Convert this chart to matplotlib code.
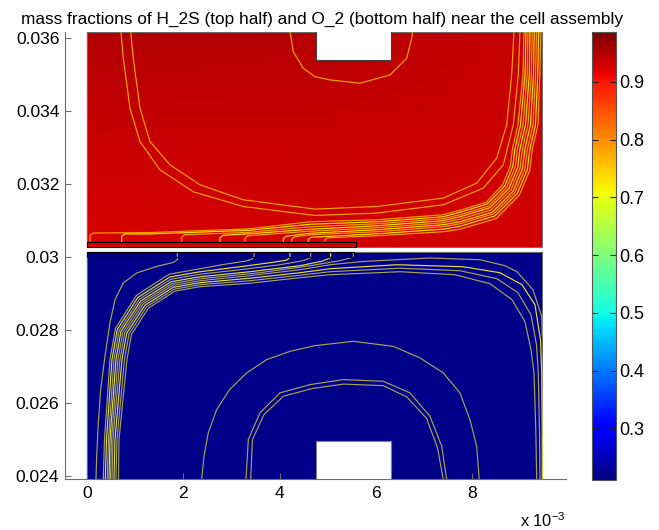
import numpy as np
import matplotlib
matplotlib.use("Agg")
import matplotlib.pyplot as plt
from matplotlib.patches import Rectangle
from matplotlib.colors import Normalize
from matplotlib.cm import ScalarMappable

plt.rcParams['font.family'] = ['Liberation Sans', 'DejaVu Sans']
plt.rcParams['mathtext.fontset'] = 'custom'
plt.rcParams['mathtext.rm'] = 'Liberation Sans'
plt.rcParams['mathtext.it'] = 'Liberation Sans:italic'

# ---------------- data (x in mm, y in mm; y is plotted in metres) ----------------
COLOR_RANGE = (0.2105, 0.9866)
CBAR_TICKS = [0.3, 0.4, 0.5, 0.6, 0.7, 0.8, 0.9]
X_TICKS = [0, 2, 4, 6, 8]
Y_TICKS = [0.024, 0.026, 0.028, 0.030, 0.032, 0.034, 0.036]

# H2S mass fraction, anode side (top half)
TOP_GRID_X = [0.0, 4.73, 9.466]
TOP_GRID_Y = [30.288, 33.2, 36.18]
TOP_VALUES = [[0.925, 0.930, 0.930],
              [0.938, 0.936, 0.935],
              [0.952, 0.948, 0.937]]

# O2 mass fraction, cathode side (bottom half)
BOTTOM_GRID_X = [0.0, 9.466]
BOTTOM_GRID_Y = [23.899, 30.126]
BOTTOM_VALUES = [[0.219, 0.219],
                 [0.219, 0.219]]

# gas inlet blocks (white cut-outs) and electrode layers
TOP_BLOCK = (4.751, 35.414, 6.325, 36.30)
BOTTOM_BLOCK = (4.758, 23.80, 6.325, 24.967)
ANODE_LAYER = (0.0, 30.288, 5.59, 30.405)
CATHODE_LAYER = (0.0, 29.995, 5.55, 30.126)

# contour lines, top half: loops around the upper channel
TOP_LOOP_X = [
    [0.901, 0.955, 1.095, 1.303, 1.719, 2.343, 3.245, 4.737, 6.021, 7.407, 8.102, 8.518, 8.726, 8.830, 8.878],
    [0.699, 0.747, 0.887, 1.095, 1.511, 2.204, 3.245, 4.737, 6.021, 7.407, 8.239, 8.656, 8.864, 8.968, 9.003],
    [4.216, 4.285, 4.493, 4.737, 5.049, 5.673, 6.298, 6.645, 6.749, 6.770],
]
TOP_LOOP_Y = [
    [36.18, 35.452, 34.082, 33.167, 32.529, 31.981, 31.570, 31.315, 31.386, 31.616, 32.027, 32.712, 33.625, 34.995, 36.18],
    [36.18, 35.452, 34.082, 33.167, 32.392, 31.789, 31.386, 31.140, 31.205, 31.433, 31.890, 32.529, 33.625, 34.995, 36.18],
    [36.18, 35.633, 35.178, 34.948, 34.858, 34.767, 34.995, 35.452, 36.0, 36.18],
]

# contour lines, top half: bundle leaving the anode layer
TOP_BUNDLE_X = [
    [0.054, 0.054, 0.117, 1.303, 3.384, 4.633, 6.028, 7.400, 7.754, 8.300, 8.645, 8.805, 8.843, 8.961, 9.066, 9.086],
    [0.714, 0.714, 0.776, 1.303, 3.384, 4.633, 6.028, 7.400, 7.754, 8.325, 8.689, 8.855, 8.895, 9.014, 9.109, 9.128],
    [1.963, 1.963, 2.025, 3.384, 4.633, 6.028, 7.400, 7.754, 8.352, 8.731, 8.907, 8.947, 9.066, 9.153, 9.170],
    [2.760, 2.760, 2.822, 3.384, 4.633, 6.028, 7.400, 7.754, 8.377, 8.774, 8.957, 8.999, 9.118, 9.197, 9.211],
    [3.280, 3.280, 3.342, 4.633, 6.028, 7.400, 7.754, 8.404, 8.816, 9.007, 9.051, 9.170, 9.240, 9.257],
    [4.077, 4.077, 4.139, 4.633, 6.028, 7.400, 7.754, 8.429, 8.860, 9.057, 9.103, 9.222, 9.284, 9.301],
    [4.252, 4.252, 4.314, 4.633, 6.028, 7.400, 7.754, 8.456, 8.901, 9.107, 9.155, 9.274, 9.328, 9.347],
    [4.597, 4.597, 4.660, 6.028, 7.400, 7.754, 8.481, 8.945, 9.157, 9.207, 9.326, 9.372, 9.392],
    [4.945, 4.945, 5.007, 6.028, 7.400, 7.754, 8.508, 8.986, 9.207, 9.259, 9.378, 9.415, 9.440],
]
TOP_BUNDLE_Y = [
    [30.405, 30.584, 30.658, 30.671, 30.775, 30.967, 31.022, 31.159, 31.282, 31.504, 31.989, 32.510, 32.940, 33.625, 34.995, 36.18],
    [30.405, 30.564, 30.633, 30.633, 30.734, 30.899, 30.967, 31.104, 31.227, 31.458, 31.956, 32.496, 32.940, 33.625, 34.995, 36.18],
    [30.405, 30.542, 30.611, 30.679, 30.830, 30.912, 31.049, 31.159, 31.397, 31.918, 32.479, 32.940, 33.625, 34.995, 36.18],
    [30.405, 30.529, 30.597, 30.638, 30.762, 30.858, 30.995, 31.104, 31.351, 31.885, 32.463, 32.940, 33.625, 34.995, 36.18],
    [30.405, 30.515, 30.584, 30.707, 30.803, 30.940, 31.036, 31.290, 31.847, 32.447, 32.940, 33.625, 34.995, 36.18],
    [30.405, 30.501, 30.570, 30.652, 30.748, 30.885, 30.967, 31.230, 31.808, 32.430, 32.940, 33.625, 34.995, 36.18],
    [30.405, 30.493, 30.556, 30.611, 30.693, 30.830, 30.912, 31.184, 31.775, 32.414, 32.940, 33.625, 34.995, 36.18],
    [30.405, 30.488, 30.542, 30.638, 30.762, 30.844, 31.126, 31.737, 32.397, 32.940, 33.625, 34.995, 36.18],
    [30.405, 30.474, 30.529, 30.584, 30.693, 30.762, 31.055, 31.690, 32.375, 32.940, 33.625, 34.995, 36.18],
]

# contour lines, bottom half: lines ending on the cathode layer
BOTTOM_STEP_X = [
    [1.871, 1.871, 1.788, 1.442, 1.026, 0.747, 0.574, 0.470, 0.366, 0.277, 0.227, 0.194, 0.179],
    [0.331, 0.356, 0.470, 0.583, 1.020, 1.702, 2.343, 2.864, 3.280, 3.426, 3.467, 3.467],
    [0.373, 0.398, 0.512, 0.622, 1.049, 1.717, 2.343, 3.176, 3.800, 4.133, 4.216, 4.216],
    [0.414, 0.439, 0.554, 0.662, 1.078, 1.732, 2.343, 3.176, 4.008, 4.487, 4.647, 4.647],
    [0.450, 0.470, 0.595, 0.699, 1.107, 1.746, 2.343, 3.384, 4.425, 4.882, 5.063, 5.063],
    [0.481, 0.502, 0.637, 0.739, 1.136, 1.761, 2.343, 3.592, 4.633, 5.257, 5.534, 5.534],
]
BOTTOM_STEP_Y = [
    [30.118, 29.926, 29.852, 29.742, 29.562, 29.288, 28.830, 28.192, 27.277, 26.364, 25.452, 24.537, 23.899],
    [23.899, 24.995, 27.186, 28.038, 28.948, 29.529, 29.679, 29.803, 29.885, 29.940, 30.008, 30.118],
    [23.899, 24.995, 27.186, 28.011, 28.890, 29.452, 29.597, 29.734, 29.844, 29.912, 29.981, 30.118],
    [23.899, 24.995, 27.186, 27.986, 28.841, 29.389, 29.529, 29.652, 29.789, 29.899, 29.981, 30.118],
    [23.899, 24.995, 27.186, 27.964, 28.795, 29.323, 29.460, 29.597, 29.762, 29.885, 29.981, 30.118],
    [23.899, 24.995, 27.186, 27.945, 28.756, 29.271, 29.405, 29.570, 29.762, 29.899, 29.995, 30.118],
]

# contour lines, bottom half: lines running across the cathode channel
BOTTOM_LOOP_X = [
    [0.512, 0.533, 0.678, 0.778, 1.165, 1.773, 2.343, 3.384, 4.425, 5.049, 5.736, 7.130, 8.171, 8.691, 8.941, 9.274, 9.455, 9.467],
    [0.554, 0.574, 0.720, 0.818, 1.197, 1.788, 2.343, 3.384, 4.425, 5.049, 6.443, 7.817, 8.587, 9.045, 9.315, 9.430, 9.455, 9.465, 9.467],
    [0.595, 0.616, 0.772, 0.866, 1.232, 1.806, 2.343, 3.384, 4.425, 5.049, 6.506, 7.754, 8.524, 8.961, 9.232, 9.347, 9.384, 9.409, 9.419],
    [0.647, 0.658, 0.824, 0.916, 1.270, 1.823, 2.343, 3.384, 4.425, 5.049, 6.506, 7.650, 8.379, 8.837, 9.107, 9.232, 9.295, 9.332, 9.351],
]
BOTTOM_LOOP_Y = [
    [23.899, 24.995, 27.186, 27.926, 28.718, 29.222, 29.351, 29.488, 29.652, 29.789, 29.879, 29.973, 29.926, 29.762, 29.597, 29.104, 28.373, 27.816],
    [23.899, 24.995, 27.186, 27.907, 28.677, 29.170, 29.296, 29.419, 29.570, 29.679, 29.789, 29.734, 29.570, 29.241, 28.693, 27.734, 26.830, 25.268, 23.899],
    [23.899, 24.995, 27.186, 27.888, 28.638, 29.118, 29.241, 29.351, 29.501, 29.597, 29.693, 29.625, 29.405, 29.022, 28.419, 27.597, 26.830, 25.268, 23.899],
    [23.899, 24.995, 27.186, 27.871, 28.600, 29.066, 29.186, 29.282, 29.433, 29.515, 29.597, 29.515, 29.268, 28.830, 28.227, 27.460, 26.830, 25.268, 23.899],
]

# contour lines, bottom half: arches around the lower channel
BOTTOM_ARCH_X = [
    [2.379, 2.427, 2.516, 2.691, 2.960, 3.315, 3.732, 4.216, 4.737, 5.534, 6.366, 6.923, 7.407, 7.754, 7.962, 8.102, 8.156],
    [3.301, 3.349, 3.592, 4.008, 4.633, 5.326, 6.158, 6.714, 7.130, 7.374, 7.478],
    [3.399, 3.436, 3.675, 4.077, 4.674, 5.326, 6.158, 6.651, 7.061, 7.286, 7.407],
]
BOTTOM_ARCH_Y = [
    [23.899, 24.537, 25.178, 25.816, 26.364, 26.822, 27.186, 27.414, 27.570, 27.688, 27.551, 27.233, 26.822, 26.274, 25.542, 24.811, 23.899],
    [23.899, 24.995, 25.726, 26.274, 26.501, 26.638, 26.592, 26.274, 25.633, 24.811, 23.899],
    [23.899, 24.995, 25.679, 26.181, 26.392, 26.515, 26.474, 26.159, 25.570, 24.775, 23.899],
]

# ---------------- drawing ----------------
MM = 1e-3
ORANGE = '#F2A200'
YELLOW = '#FFDD00'
OLIVE = '#A6A25A'
BRIGHT = '#E6E034'
EDGE = '#6e6e6e'

fig = plt.figure(figsize=(6.59, 5.30), dpi=100)
ax = fig.add_axes([0.0986, 0.0953, 0.7602, 0.8449])
cmap = plt.get_cmap('jet')
norm = Normalize(*COLOR_RANGE)

# surfaces
gx, gy = np.meshgrid(TOP_GRID_X, np.array(TOP_GRID_Y) * MM)
ax.pcolormesh(gx, gy, np.array(TOP_VALUES), shading='gouraud', cmap=cmap, norm=norm, zorder=1)
gx, gy = np.meshgrid(BOTTOM_GRID_X, np.array(BOTTOM_GRID_Y) * MM)
ax.pcolormesh(gx, gy, np.array(BOTTOM_VALUES), shading='gouraud', cmap=cmap, norm=norm, zorder=1)

# domain boundaries
for gxs, gys in ((TOP_GRID_X, TOP_GRID_Y), (BOTTOM_GRID_X, BOTTOM_GRID_Y)):
    ax.add_patch(Rectangle((gxs[0], gys[0] * MM), gxs[-1] - gxs[0], (gys[-1] - gys[0]) * MM,
                           fill=False, ec=EDGE, lw=0.7, zorder=2))

line_kw = dict(lw=0.85, solid_joinstyle='round', solid_capstyle='butt', zorder=3)
for xs, ys in zip(TOP_LOOP_X, TOP_LOOP_Y):
    ax.plot(xs, np.array(ys) * MM, color=ORANGE, **line_kw)
for i, (xs, ys) in enumerate(zip(TOP_BUNDLE_X, TOP_BUNDLE_Y)):
    ax.plot(xs, np.array(ys) * MM, color=ORANGE if i % 2 == 0 else YELLOW, **line_kw)

step_colors = [OLIVE, OLIVE, BRIGHT, OLIVE, BRIGHT, OLIVE]
for c, xs, ys in zip(step_colors, BOTTOM_STEP_X, BOTTOM_STEP_Y):
    ax.plot(xs, np.array(ys) * MM, color=c, **line_kw)
loop_colors = [OLIVE, BRIGHT, OLIVE, OLIVE]
for c, xs, ys in zip(loop_colors, BOTTOM_LOOP_X, BOTTOM_LOOP_Y):
    ax.plot(xs, np.array(ys) * MM, color=c, **line_kw)
for xs, ys in zip(BOTTOM_ARCH_X, BOTTOM_ARCH_Y):
    ax.plot(xs, np.array(ys) * MM, color=OLIVE, **line_kw)

# channel cut-outs and electrode layers
for (x0, y0, x1, y1), ec in ((TOP_BLOCK, '#404040'), (BOTTOM_BLOCK, '#808080')):
    ax.add_patch(Rectangle((x0, y0 * MM), x1 - x0, (y1 - y0) * MM, fc='white', ec=ec, lw=0.8, zorder=4))
for (x0, y0, x1, y1) in (ANODE_LAYER, CATHODE_LAYER):
    ax.add_patch(Rectangle((x0, y0 * MM), x1 - x0, (y1 - y0) * MM, fill=False, ec='black', lw=0.8, zorder=4))

ax.set_xlim(-0.466, 9.96)
ax.set_ylim(23.899 * MM, 36.18 * MM)
ax.set_xticks(X_TICKS)
ax.set_xticklabels([str(t) for t in X_TICKS])
ax.set_yticks(Y_TICKS)
ax.set_yticklabels([f'{t:g}' for t in Y_TICKS])
for side in ('top', 'right'):
    ax.spines[side].set_visible(False)
for side in ('left', 'bottom'):
    ax.spines[side].set_color(EDGE)
    ax.spines[side].set_linewidth(0.8)
ax.tick_params(direction='in', length=4, width=0.8, color=EDGE, labelsize=12.6)
ax.tick_params(axis='x', pad=5)
ax.tick_params(axis='y', pad=4)

fig.text(322 / 659, 1 - 23.5 / 530,
         'mass fractions of H_2S (top half) and O_2 (bottom half) near the cell assembly',
         ha='center', va='baseline', fontsize=12.4)
fig.text(566 / 659, 1 - 527 / 530, 'x 10$^{-3}$', ha='right', va='baseline', fontsize=11.8)

# colour bar
cax = fig.add_axes([0.8988, 0.0943, 0.0360, 0.8458])
cb = fig.colorbar(ScalarMappable(norm=norm, cmap=cmap), cax=cax, ticks=CBAR_TICKS)
cb.ax.set_yticklabels([f'{t:.1f}' for t in CBAR_TICKS])
cb.outline.set_edgecolor('#555555')
cb.outline.set_linewidth(0.8)
cax.tick_params(direction='in', length=4, width=0.8, left=True, right=True, color='#222222',
                labelsize=13, pad=2.5)

fig.savefig('out.png', dpi=100)
